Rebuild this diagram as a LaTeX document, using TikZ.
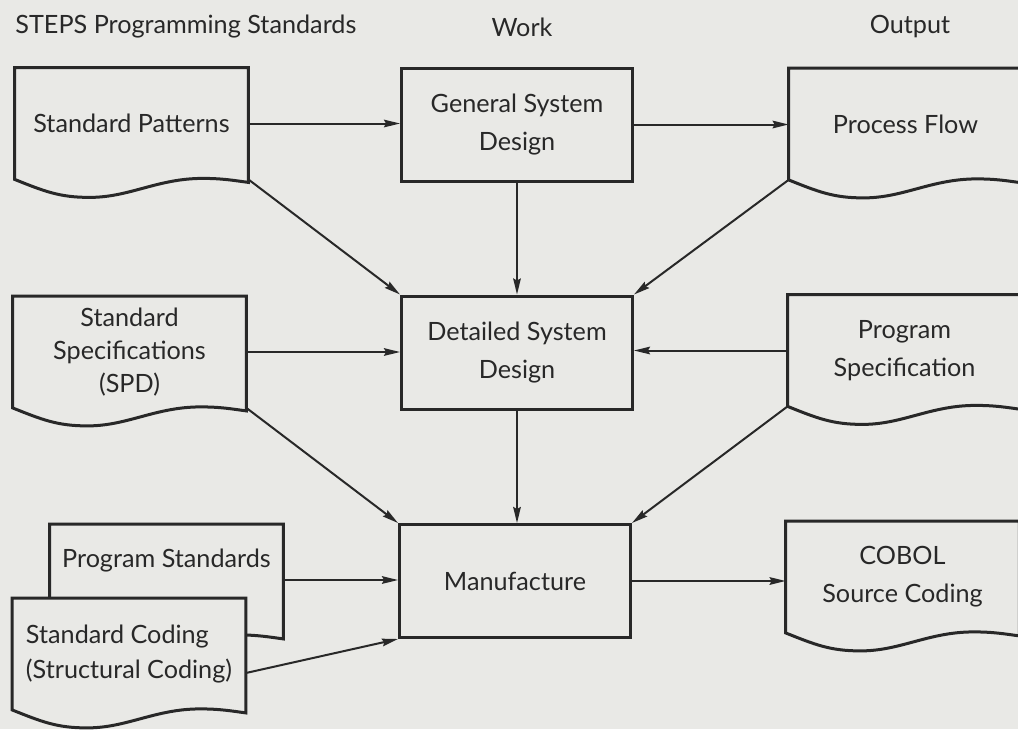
\documentclass[tikz,border=0pt]{standalone}
\usepackage{fontspec}
\setmainfont{Lato}
\usetikzlibrary{arrows.meta,calc,backgrounds}

\definecolor{paper}{RGB}{233,233,230}
\definecolor{ink}{RGB}{40,40,40}

% document symbol: flat top, wavy bottom (drawn behind the text)
\newcommand{\docoutline}[1]{%
  \begin{pgfonlayer}{background}
  \draw[ink, line width=1.5pt, fill=paper] (#1.south west) -- (#1.north west) -- (#1.north east)
    -- ($(#1.south east)+(0,3)$)
    .. controls +(-15,-2) and +(20,0) .. ($(#1.south west)+(188,-1)$)
    .. controls +(-45,0) and +(40,0) .. ($(#1.south west)+(75,18)$)
    .. controls +(-30,0) and +(30,12) .. (#1.south west) -- cycle;
  \end{pgfonlayer}}

\begin{document}
\begin{tikzpicture}[x=0.5pt,y=-0.5pt]
    \tikzstyle{every node}=[font=\fontsize{12.6}{19}\selectfont, text=ink]
    \tikzstyle{docbox}=[minimum width=116.5pt, minimum height=55.5pt, inner sep=0pt, align=center]
    \tikzstyle{workbox}=[draw=ink, line width=1.5pt, fill=paper, minimum width=115.5pt, minimum height=56.5pt, inner sep=0pt, align=center]
    \tikzstyle{flow}=[ink, line width=1pt, -{Stealth[length=8pt,width=3.8pt,inset=1pt]}]

    \begin{pgfonlayer}{background}
      \fill[paper] (0,0) rectangle (1018,729);
    \end{pgfonlayer}
    \useasboundingbox (0,0) rectangle (1018,729);
    \clip (0,0) rectangle (1018,729);

    % column heads
    \node[anchor=west, inner sep=0pt] (hstd) at (15,27) {STEPS Programming Standards};
    \node (hwork) at (522,27) {Work};
    \node (hout) at (910,27) {Output};

    % standards
    \node[docbox] (pattern) at (131.5,123.5) {Standard Patterns};
    \node[docbox, font=\fontsize{12.6}{16.5}\selectfont] (spec) at (129.5,352) {Standard\\Specifications\\(SPD)};
    \node[docbox, text depth=21.5pt] (prgstd) at (166.5,580) {Program Standards};
    \node[docbox, align=left, font=\fontsize{12.6}{17.5}\selectfont] (coding) at (129,654) {Standard Coding\\(Structural Coding)};

    % work
    \node[workbox] (gsd) at (517,124.5) {General System\\Design};
    \node[workbox] (dsd) at (517,352.5) {Detailed System\\Design};
    \node[workbox] (manuf) at (515,581) {Manufacture};

    % output
    \node[docbox] (flow) at (905.5,124) {Process Flow};
    \node[docbox] (prgspec) at (904.5,350.5) {Program\\Specification};
    \node[docbox] (cobol) at (902.5,577) {COBOL\\Source Coding};

    \foreach \n in {pattern,spec,prgstd,coding,flow,prgspec,cobol} {\docoutline{\n}}

    \draw[flow] (pattern.east) -- (pattern.east -| gsd.west);
    \draw[flow] (gsd.east) -- (gsd.east -| flow.west);
    \draw[flow] (gsd.south) -- (dsd.north);
    \draw[flow] (pattern.south east) -- (dsd.north west);
    \draw[flow] (flow.south west) -- (dsd.north east);
    \draw[flow] (spec.east) -- (spec.east -| dsd.west);
    \draw[flow] (prgspec.west) -- (prgspec.west -| dsd.east);

    \draw[flow] (dsd.south) -- (dsd.south |- manuf.north);
    \draw[flow] (spec.south east) -- (manuf.north west);
    \draw[flow] (prgspec.south west) -- (manuf.north east);
    \draw[flow] (prgstd.east) -- (prgstd.east -| manuf.west);
    \draw[flow] ([yshift=-9.5pt]coding.east) -- (manuf.south west);
    \draw[flow] (manuf.east) -- (manuf.east -| cobol.west);
\end{tikzpicture}
\end{document}
